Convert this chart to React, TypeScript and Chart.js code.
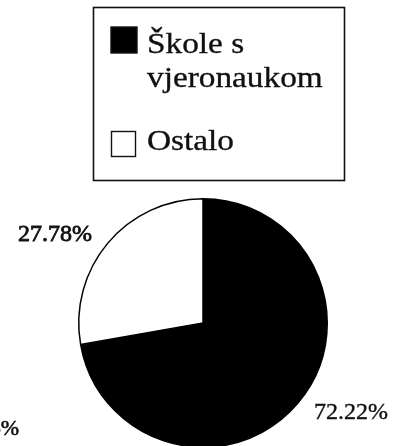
import React, { useEffect, useRef } from 'react';
import { Chart, registerables } from 'chart.js';

Chart.register(...registerables);

const categories: string[][] = [['Škole s', 'vjeronaukom'], ['Ostalo']];
const values: number[] = [72.22, 27.78];
const colors: string[] = ['#000000', '#ffffff'];

const FONT = '"Liberation Serif", "Times New Roman", serif';

function inkText(ctx: CanvasRenderingContext2D, t: string, x: number, y: number, w: number) {
  ctx.fillText(t, x, y);
  ctx.lineWidth = w;
  ctx.strokeText(t, x, y);
}

const legendBox = {
  id: 'legendBox',
  afterDraw(chart: any) {
    const ctx: CanvasRenderingContext2D = chart.ctx;
    const ds = chart.data.datasets[0];
    const layout = [
      { sq: [111, 27, 26, 26], baseline: 53 },
      { sq: [111.5, 131.5, 24, 25], baseline: 150 },
    ];
    ctx.save();
    ctx.strokeStyle = '#111';
    ctx.lineWidth = 1.6;
    ctx.strokeRect(93.5, 7.5, 251, 173);
    (chart.data.labels as string[][]).forEach((lines, i) => {
      const l = layout[i];
      const [sx, sy, sw, sh] = l.sq;
      ctx.fillStyle = ds.backgroundColor[i];
      ctx.fillRect(sx, sy, sw, sh);
      ctx.lineWidth = 1.4;
      ctx.strokeStyle = '#111';
      ctx.strokeRect(sx, sy, sw, sh);
      ctx.fillStyle = '#111';
      ctx.font = `30px ${FONT}`;
      ctx.textAlign = 'left';
      ctx.textBaseline = 'alphabetic';
      lines.forEach((t, j) => {
        ctx.save();
        ctx.translate(147, l.baseline + j * 34);
        ctx.scale(1.11, 1);
        inkText(ctx, t, 0, 0, 0.35);
        ctx.restore();
      });
    });
    ctx.restore();
  },
};

const pctLabels = {
  id: 'pctLabels',
  afterDatasetsDraw(chart: any) {
    const ctx: CanvasRenderingContext2D = chart.ctx;
    const meta = chart.getDatasetMeta(0);
    const vals = chart.data.datasets[0].data as number[];
    ctx.save();
    ctx.fillStyle = '#111';
    ctx.strokeStyle = '#111';
    ctx.font = `24px ${FONT}`;
    ctx.textAlign = 'center';
    ctx.textBaseline = 'middle';
    meta.data.forEach((arc: any, i: number) => {
      const { x, y, startAngle, endAngle, outerRadius } = arc.getProps(
        ['x', 'y', 'startAngle', 'endAngle', 'outerRadius'],
        true
      );
      const mid = (startAngle + endAngle) / 2 - (9 * Math.PI) / 180;
      const d = outerRadius * 1.39;
      inkText(ctx, vals[i].toFixed(2) + '%', x + Math.cos(mid) * d, y + Math.sin(mid) * d + 1, i === 1 ? 0.8 : 0.4);
    });
    // fragment of a neighbouring label cut by the picture edge
    ctx.textAlign = 'right';
    ctx.textBaseline = 'alphabetic';
    ctx.font = `22px ${FONT}`;
    inkText(ctx, '6%', 19, 435, 0.6);
    ctx.restore();
  },
};

export default function App() {
  const ref = useRef<HTMLCanvasElement>(null);
  useEffect(() => {
    document.body.style.margin = '0';
    document.body.style.overflow = 'hidden';
    const chart = new Chart(ref.current as HTMLCanvasElement, {
      type: 'pie',
      data: {
        labels: categories as any,
        datasets: [
          {
            data: values,
            backgroundColor: colors,
            borderColor: '#000',
            borderWidth: 1.5,
            hoverOffset: 0,
            offset: 0,
          },
        ],
      },
      options: {
        responsive: false,
        animation: false,
        events: [],
        layout: { padding: { top: 198, bottom: 12, left: 78, right: 73 } },
        plugins: { legend: { display: false }, tooltip: { enabled: false } },
      },
      plugins: [legendBox, pctLabels],
    });
    return () => chart.destroy();
  }, []);
  return (
    <div style={{ width: 401, height: 446, overflow: 'hidden', background: '#fff' }}>
      <canvas ref={ref} width={401} height={460} style={{ display: 'block' }} />
    </div>
  );
}
